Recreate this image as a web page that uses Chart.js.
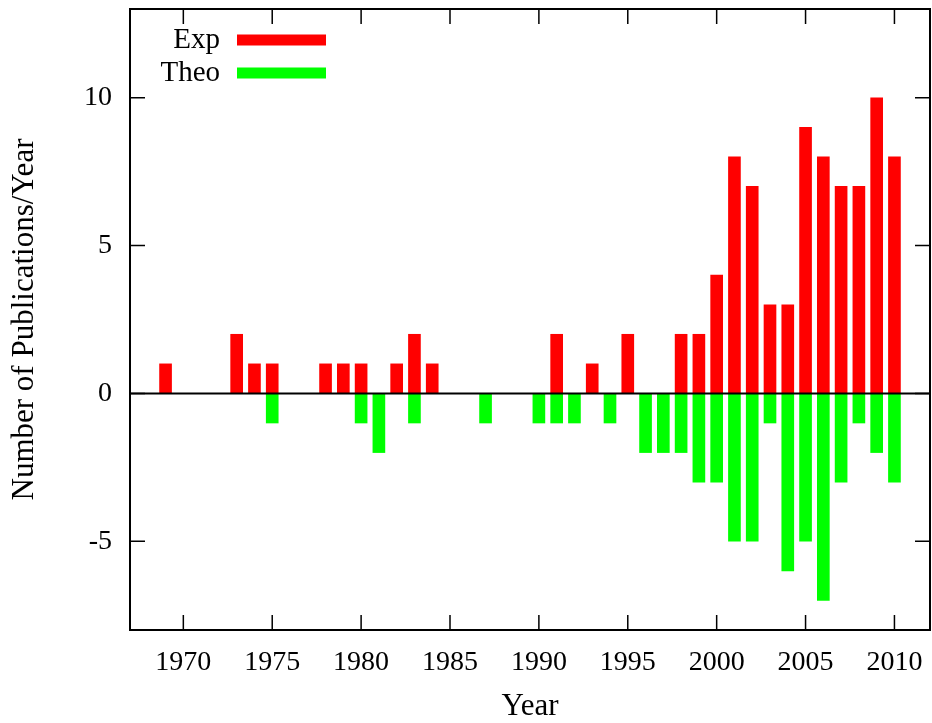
<!DOCTYPE html>
<html>
<head>
<meta charset="utf-8">
<script src="https://cdn.jsdelivr.net/npm/chart.js@4.4.1/dist/chart.umd.min.js"></script>
<style>
  html, body { margin: 0; padding: 0; background: #fff; }
  #wrap { width: 932px; height: 723px; }
</style>
</head>
<body>
<div id="wrap"><canvas id="chart" width="932" height="723"></canvas></div>
<script>
// publications per year, experiment above the axis, theory below
const expYears = [1969, 1973, 1974, 1975, 1978, 1979, 1980, 1982, 1983, 1984, 1991, 1993, 1995, 1998, 1999, 2000, 2001, 2002, 2003, 2004, 2005, 2006, 2007, 2008, 2009, 2010]
const expCounts = [1, 2, 1, 1, 1, 1, 1, 1, 2, 1, 2, 1, 2, 2, 2, 4, 8, 7, 3, 3, 9, 8, 7, 7, 10, 8]
const theoYears = [1975, 1980, 1981, 1983, 1987, 1990, 1991, 1992, 1994, 1996, 1997, 1998, 1999, 2000, 2001, 2002, 2003, 2004, 2005, 2006, 2007, 2008, 2009, 2010]
const theoCounts = [-1, -1, -2, -1, -1, -1, -1, -1, -1, -2, -2, -2, -3, -3, -5, -5, -1, -6, -5, -7, -3, -1, -2, -3]
const xTicks = [1970, 1975, 1980, 1985, 1990, 1995, 2000, 2005, 2010]
const yTicks = [-5, 0, 5, 10]

const serif = 'Liberation Serif'
const TICK = 15

const framePlugin = {
  id: 'frame',
  afterDatasetsDraw(chart) {
    const { ctx, chartArea: a, scales } = chart
    ctx.save()
    // zero line
    const y0 = scales.y.getPixelForValue(0)
    ctx.strokeStyle = '#000'
    ctx.lineWidth = 2
    ctx.beginPath()
    ctx.moveTo(a.left, y0)
    ctx.lineTo(a.right, y0)
    ctx.stroke()

    // inward ticks on all four sides
    ctx.lineWidth = 1.5
    ctx.beginPath()
    xTicks.forEach(v => {
      const x = scales.x.getPixelForValue(v)
      ctx.moveTo(x, a.bottom); ctx.lineTo(x, a.bottom - TICK)
      ctx.moveTo(x, a.top); ctx.lineTo(x, a.top + TICK)
    })
    yTicks.forEach(v => {
      const y = scales.y.getPixelForValue(v)
      ctx.moveTo(a.left, y); ctx.lineTo(a.left + TICK, y)
      ctx.moveTo(a.right, y); ctx.lineTo(a.right - TICK, y)
    })
    ctx.stroke()

    ctx.lineWidth = 2
    ctx.strokeRect(a.left, a.top, a.right - a.left, a.bottom - a.top)

    // legend, gnuplot style
    ctx.font = '29px "' + serif + '"'
    ctx.textAlign = 'right'
    ctx.textBaseline = 'middle'
    chart.data.datasets.forEach((ds, i) => {
      const cy = a.top + 31 + i * 33
      ctx.fillStyle = '#000'
      ctx.fillText(ds.label, a.left + 90, cy)
      ctx.strokeStyle = ds.backgroundColor
      ctx.lineWidth = 11
      ctx.beginPath()
      ctx.moveTo(a.left + 107, cy)
      ctx.lineTo(a.left + 196, cy)
      ctx.stroke()
    })
    ctx.restore()
  }
}

new Chart(document.getElementById('chart'), {
  type: 'bar',
  data: {
    datasets: [
      {
        label: 'Exp',
        data: expYears.map((yr, i) => ({ x: yr, y: expCounts[i] })),
        backgroundColor: '#ff0000',
        barThickness: 12,
        grouped: false,
      },
      {
        label: 'Theo',
        data: theoYears.map((yr, i) => ({ x: yr, y: theoCounts[i] })),
        backgroundColor: '#00ff00',
        barThickness: 12,
        grouped: false,
      },
    ],
  },
  options: {
    responsive: false,
    animation: false,
    layout: { padding: { left: 0, right: 2, top: 9, bottom: 0 } },
    plugins: { legend: { display: false }, tooltip: { enabled: false } },
    scales: {
      x: {
        type: 'linear',
        min: 1967,
        max: 2012,
        offset: false,
        afterBuildTicks: s => { s.ticks = xTicks.map(v => ({ value: v })) },
        afterFit: s => { s.height = 93; s.paddingLeft = 0; s.paddingRight = 0 },
        grid: { display: false, drawTicks: false },
        border: { display: false },
        ticks: { color: '#000', padding: 16, callback: v => String(v), font: { family: serif, size: 28 } },
        title: { display: true, text: 'Year', color: '#000', padding: { top: 0, bottom: -2 }, font: { family: serif, size: 31 } },
      },
      y: {
        min: -8,
        max: 13,
        afterBuildTicks: s => { s.ticks = yTicks.map(v => ({ value: v })) },
        afterFit: s => { s.width = 130; s.paddingTop = 0; s.paddingBottom = 0 },
        grid: { display: false, drawTicks: false },
        border: { display: false },
        ticks: { color: '#000', padding: 18, font: { family: serif, size: 28 } },
        title: { display: true, text: 'Number of Publications/Year', color: '#000', padding: { top: 6, bottom: 0 }, font: { family: serif, size: 31 } },
      },
    },
  },
  plugins: [framePlugin],
})
</script>
</body>
</html>
